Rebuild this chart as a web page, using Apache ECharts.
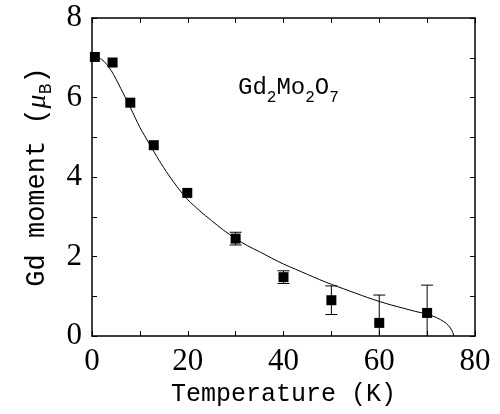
<!DOCTYPE html>
<html>
<head>
<meta charset="utf-8">
<script src="https://cdn.jsdelivr.net/npm/echarts@6/dist/echarts.min.js"></script>
<style>
  html, body { margin: 0; padding: 0; background: #fff; }
  #chart { width: 500px; height: 414px; }
</style>
</head>
<body>
<div id="chart"></div>
<script>
// measured points
const temps = [0.6, 4.3, 8.0, 12.9, 19.9, 30, 40, 50, 60, 70];
const moments = [7.02, 6.88, 5.87, 4.8, 3.6, 2.45, 1.48, 0.9, 0.33, 0.58];
const errs = [0, 0, 0, 0, 0, 0.16, 0.16, 0.36, 0.7, 0.7];

// fitted curve
const fitT = [0, 2, 4, 6, 8, 10, 12, 14, 16, 18, 20, 22.5, 25, 27.5, 30, 32.5, 35, 37.5, 40,
  42.5, 45, 47.5, 50, 52.5, 55, 57.5, 60, 62.5, 65, 67.5, 70, 72, 73.5, 74.5, 75.2, 75.6];
const fitM = [7.0, 6.96, 6.68, 6.23, 5.75, 5.25, 4.83, 4.42, 4.05, 3.72, 3.43, 3.15, 2.9, 2.66,
  2.45, 2.27, 2.12, 1.96, 1.81, 1.68, 1.55, 1.42, 1.3, 1.19, 1.08, 0.97, 0.87, 0.78, 0.7, 0.62,
  0.55, 0.46, 0.36, 0.26, 0.13, 0];

const xTicks = [0, 20, 40, 60, 80];
const yTicks = [0, 2, 4, 6, 8];

const monoFont = 'Liberation Mono';
const numFont = 'Liberation Serif';

const chart = echarts.init(document.getElementById('chart'));

const axisLine = { show: true, onZero: false, lineStyle: { color: '#000', width: 1.5 } };
const axisTick = { show: true, inside: true, length: 5, lineStyle: { color: '#000', width: 1 } };

// rich styles for text with subscripts
const richText = (size, subSize, drop) => ({
  n: { fontFamily: monoFont, fontSize: size, fontWeight: 'normal', color: '#000', lineHeight: 30, verticalAlign: 'top' },
  i: { fontFamily: numFont, fontStyle: 'italic', fontSize: size + 1, fontWeight: 'normal', color: '#000', lineHeight: 30, verticalAlign: 'top' },
  s: { fontFamily: monoFont, fontSize: subSize, fontWeight: 'normal', color: '#000', lineHeight: 16, verticalAlign: 'top', padding: [drop, 0, 0, 0] }
});

chart.setOption({
  animation: false,
  backgroundColor: '#fff',
  title: {
    text: '{n|Gd}{s|2}{n|Mo}{s|2}{n|O}{s|7}',
    left: 233,
    top: 71,
    textStyle: { rich: richText(24, 16, 14) }
  },
  grid: { left: 92, right: 25, top: 18, bottom: 78 },
  xAxis: [{
    type: 'value', min: 0, max: 80, interval: 10,
    name: 'Temperature (K)', nameLocation: 'middle', nameGap: 42,
    nameTextStyle: { fontFamily: monoFont, fontSize: 25, color: '#000' },
    axisLine, axisTick, splitLine: { show: false },
    axisLabel: {
      margin: 10, color: '#000', fontFamily: numFont, fontSize: 31,
      formatter: v => (xTicks.includes(v) ? String(v) : '')
    }
  }, {
    type: 'value', position: 'top', min: 0, max: 80, interval: 10,
    axisLine, axisTick, splitLine: { show: false }, axisLabel: { show: false }
  }],
  yAxis: [{
    type: 'value', min: 0, max: 8, interval: 1,
    name: '{n|Gd moment (}{i|μ}{s|B}{n|)}', nameLocation: 'middle', nameGap: 38, nameRotate: 90,
    nameTextStyle: { rich: richText(27, 18, 14) },
    axisLine, axisTick, splitLine: { show: false },
    axisLabel: {
      margin: 10, color: '#000', fontFamily: numFont, fontSize: 31,
      formatter: v => (yTicks.includes(v) ? String(v) : '')
    }
  }, {
    type: 'value', position: 'right', min: 0, max: 8, interval: 1,
    axisLine, axisTick, splitLine: { show: false }, axisLabel: { show: false }
  }],
  series: [{
    type: 'line',
    data: fitT.map((t, i) => [t, fitM[i]]),
    smooth: 0.3,
    showSymbol: false,
    lineStyle: { color: '#000', width: 1 },
    z: 2
  }, {
    type: 'custom',
    clip: true,
    data: temps.map((t, i) => [t, moments[i], errs[i]]),
    renderItem: (params, api) => {
      const e = api.value(2);
      if (!e) return null;
      const x = api.value(0), y = api.value(1);
      const hi = api.coord([x, y + e]);
      const lo = api.coord([x, y - e]);
      const w = 6;
      const st = { stroke: '#000', lineWidth: 1 };
      return {
        type: 'group',
        children: [
          { type: 'line', shape: { x1: hi[0], y1: hi[1], x2: lo[0], y2: lo[1] }, style: st },
          { type: 'line', shape: { x1: hi[0] - w, y1: hi[1], x2: hi[0] + w, y2: hi[1] }, style: st },
          { type: 'line', shape: { x1: lo[0] - w, y1: lo[1], x2: lo[0] + w, y2: lo[1] }, style: st }
        ]
      };
    },
    z: 3
  }, {
    type: 'scatter',
    data: temps.map((t, i) => [t, moments[i]]),
    symbol: 'rect',
    symbolSize: 10,
    itemStyle: { color: '#000', opacity: 1 },
    z: 4
  }]
});
</script>
</body>
</html>
